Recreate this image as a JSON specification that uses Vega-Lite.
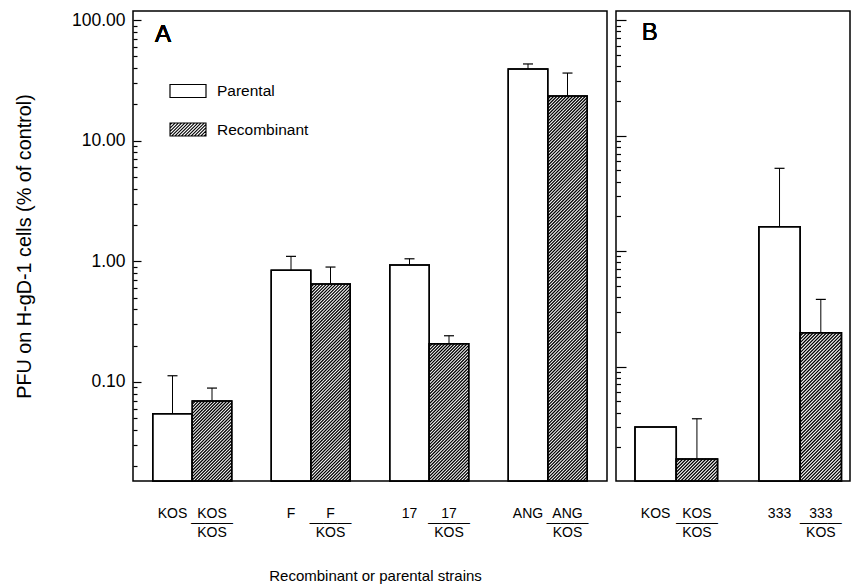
{
  "$schema": "https://vega.github.io/schema/vega-lite/v6.json",
  "padding": {"left": 13, "top": 10, "right": 0, "bottom": 0},
  "config": {
    "font": "Liberation Sans",
    "view": {"stroke": "black", "strokeWidth": 1.5},
    "axis": {"labelColor": "black", "titleColor": "black", "tickColor": "black", "domainColor": "black", "titleFontWeight": "normal", "labelFont": "Liberation Sans", "titleFont": "Liberation Sans", "grid": false},
    "legend": {"labelFont": "Liberation Sans", "labelColor": "black", "labelFontSize": 15.5, "labelOffset": 10, "padding": 0, "title": null},
    "text": {"font": "Liberation Sans", "color": "black", "fontWeight": "normal"}
  },
  "datasets": {
    "a": [
      {"strain": "KOS", "series": "Parental", "pfu": 0.0545, "err": 0.1126},
      {"strain": "KOS/KOS", "series": "Recombinant", "pfu": 0.0695, "err": 0.089},
      {"strain": "F", "series": "Parental", "pfu": 0.842, "err": 1.10},
      {"strain": "F/KOS", "series": "Recombinant", "pfu": 0.648, "err": 0.897},
      {"strain": "17", "series": "Parental", "pfu": 0.932, "err": 1.05},
      {"strain": "17/KOS", "series": "Recombinant", "pfu": 0.2074, "err": 0.2416},
      {"strain": "ANG", "series": "Parental", "pfu": 39.3, "err": 43.3},
      {"strain": "ANG/KOS", "series": "Recombinant", "pfu": 23.5, "err": 36.4}
    ],
    "b": [
      {"strain": "KOS", "series": "Parental", "pfu": 0.0299, "err": null},
      {"strain": "KOS/KOS", "series": "Recombinant", "pfu": 0.0158, "err": 0.0353},
      {"strain": "333", "series": "Parental", "pfu": 1.627, "err": 5.22},
      {"strain": "333/KOS", "series": "Recombinant", "pfu": 0.1963, "err": 0.382}
    ]
  },
  "spacing": 6,
  "resolve": {"scale": {"x": "independent", "y": "independent", "fill": "independent", "stroke": "independent"}, "legend": {"fill": "independent", "stroke": "independent"}},
  "hconcat": [
    {
      "width": 474,
      "height": 470,
      "data": {"name": "a"},
      "encoding": {
        "x": {
          "field": "strain", "type": "nominal",
          "scale": {"domain": ["KOS", "KOS/KOS", " ", "F", "F/KOS", "  ", "17", "17/KOS", "   ", "ANG", "ANG/KOS"], "paddingInner": 0, "paddingOuter": 0.5},
          "axis": {
            "title": "Recombinant or parental strains", "titleFontSize": 15, "titlePadding": 29, "titleX": 242,
            "ticks": false, "domain": false, "labelAngle": 0, "labelFontSize": 14, "labelPadding": 25,
            "labelLineHeight": 9.5, "labelBaseline": "top", "labelOverlap": false,
            "labelExpr": "indexof(datum.value, '/') > 0 ? [split(datum.value, '/')[0], '———', split(datum.value, '/')[1]] : datum.value"
          }
        },
        "y": {
          "field": "pfu", "type": "quantitative",
          "scale": {"type": "log", "domain": [0.0151, 119], "nice": false, "zero": false},
          "axis": {
            "title": "PFU on H-gD-1 cells (% of control)", "titleFontSize": 19.8, "titlePadding": 37,
            "values": [0.02, 0.03, 0.04, 0.05, 0.06, 0.07, 0.08, 0.09, 0.1, 0.2, 0.3, 0.4, 0.5, 0.6, 0.7, 0.8, 0.9, 1, 2, 3, 4, 5, 6, 7, 8, 9, 10, 20, 30, 40, 50, 60, 70, 80, 90, 100],
            "labelExpr": "indexof([0.1, 1, 10, 100], datum.value) >= 0 ? format(datum.value, '.2f') : ''",
            "tickSize": {"condition": {"test": "indexof([0.1, 1, 10, 100], datum.value) >= 0", "value": -8}, "value": -4},
            "tickWidth": 1.2, "domain": false, "labelFontSize": 17.5, "labelPadding": 16, "labelOverlap": false, "labelFlush": false
          }
        }
      },
      "layer": [
        {
          "mark": {"type": "rect", "stroke": "black", "strokeWidth": 1.5},
          "encoding": {
            "y2": {"datum": 0.0151},
            "fill": {
              "field": "series", "type": "nominal",
              "scale": {"domain": ["Parental", "Recombinant"], "range": ["white", "white"]},
              "legend": {
                "values": ["Parental"], "orient": "none", "legendX": 36, "legendY": 61,
                "symbolType": "M-1,-0.36L1,-0.36L1,0.36L-1,0.36Z", "symbolSize": 1296,
                "symbolStrokeColor": "black", "symbolStrokeWidth": 1.2, "symbolOpacity": 1
              }
            }
          }
        },
        {
          "transform": [{"filter": "datum.series === 'Recombinant'"}],
          "mark": {
            "type": "point", "filled": false, "opacity": 1, "strokeWidth": 1.25, "clip": true, "size": 1560.25,
            "shape": "M-1,0.16l0.16,-0.16M-1,0.32l0.32,-0.32M-1,0.48l0.48,-0.48M-1,0.64l0.64,-0.64M-1,0.8l0.8,-0.8M-1,0.96l0.96,-0.96M-1,1.12l1.12,-1.12M-1,1.28l1.28,-1.28M-1,1.44l1.44,-1.44M-1,1.6l1.6,-1.6M-1,1.76l1.76,-1.76M-1,1.92l1.92,-1.92M-1,2.08l2,-2m-2,2.16l2,-2m-2,2.16l2,-2m-2,2.16l2,-2m-2,2.16l2,-2m-2,2.16l2,-2m-2,2.16l2,-2m-2,2.16l2,-2m-2,2.16l2,-2m-2,2.16l2,-2m-2,2.16l2,-2m-2,2.16l2,-2m-2,2.16l2,-2m-2,2.16l2,-2m-2,2.16l2,-2m-2,2.16l2,-2m-2,2.16l2,-2m-2,2.16l2,-2m-2,2.16l2,-2m-2,2.16l2,-2m-2,2.16l2,-2m-2,2.16l2,-2m-2,2.16l2,-2m-2,2.16l2,-2m-2,2.16l2,-2m-2,2.16l2,-2m-2,2.16l2,-2m-2,2.16l2,-2m-2,2.16l2,-2m-2,2.16l2,-2m-2,2.16l2,-2m-2,2.16l2,-2m-2,2.16l2,-2m-2,2.16l2,-2m-2,2.16l2,-2m-2,2.16l2,-2m-2,2.16l2,-2m-2,2.16l2,-2m-2,2.16l2,-2m-2,2.16l2,-2m-2,2.16l2,-2m-2,2.16l2,-2m-2,2.16l2,-2m-2,2.16l2,-2m-2,2.16l2,-2m-2,2.16l2,-2m-2,2.16l2,-2m-2,2.16l2,-2m-2,2.16l2,-2m-2,2.16l2,-2m-2,2.16l2,-2m-2,2.16l2,-2m-2,2.16l2,-2m-2,2.16l2,-2m-2,2.16l2,-2m-2,2.16l2,-2m-2,2.16l2,-2m-2,2.16l2,-2m-2,2.16l2,-2m-2,2.16l2,-2m-2,2.16l2,-2m-2,2.16l2,-2m-2,2.16l2,-2m-2,2.16l2,-2m-2,2.16l2,-2m-2,2.16l2,-2m-2,2.16l2,-2m-2,2.16l2,-2m-2,2.16l2,-2m-2,2.16l2,-2m-2,2.16l2,-2m-2,2.16l2,-2m-2,2.16l2,-2m-2,2.16l2,-2m-2,2.16l2,-2m-2,2.16l2,-2m-2,2.16l2,-2m-2,2.16l2,-2m-2,2.16l2,-2m-2,2.16l2,-2m-2,2.16l2,-2m-2,2.16l2,-2m-2,2.16l2,-2m-2,2.16l2,-2m-2,2.16l2,-2m-2,2.16l2,-2m-2,2.16l2,-2m-2,2.16l2,-2m-2,2.16l2,-2m-2,2.16l2,-2m-2,2.16l2,-2m-2,2.16l2,-2m-2,2.16l2,-2m-2,2.16l2,-2m-2,2.16l2,-2m-2,2.16l2,-2m-2,2.16l2,-2m-2,2.16l2,-2m-2,2.16l2,-2m-2,2.16l2,-2m-2,2.16l2,-2m-2,2.16l2,-2m-2,2.16l2,-2m-2,2.16l2,-2m-2,2.16l2,-2m-2,2.16l2,-2m-2,2.16l2,-2m-2,2.16l2,-2m-2,2.16l2,-2m-2,2.16l2,-2m-2,2.16l2,-2m-2,2.16l2,-2m-2,2.16l2,-2m-2,2.16l2,-2m-2,2.16l2,-2m-2,2.16l2,-2m-2,2.16l2,-2m-2,2.16l2,-2m-2,2.16l2,-2m-2,2.16l2,-2m-2,2.16l2,-2m-2,2.16l2,-2m-2,2.16l2,-2m-2,2.16l2,-2m-2,2.16l2,-2"
          },
          "encoding": {
            "stroke": {
              "field": "series", "type": "nominal",
              "scale": {"domain": ["Recombinant"], "range": ["black"]},
              "legend": {
                "orient": "none", "legendX": 36, "legendY": 99.5,
                "symbolType": "M-1,-0.36L1,-0.36L1,0.36L-1,0.36ZM-1,-0.26l0.1,-0.1M-1,-0.08l0.28,-0.28M-1,0.1l0.46,-0.46M-1,0.28l0.64,-0.64M-0.9,0.36l0.72,-0.72M-0.72,0.36l0.72,-0.72M-0.54,0.36l0.72,-0.72M-0.36,0.36l0.72,-0.72M-0.18,0.36l0.72,-0.72M0,0.36l0.72,-0.72M0.18,0.36l0.72,-0.72M0.36,0.36l0.64,-0.64M0.54,0.36l0.46,-0.46M0.72,0.36l0.28,-0.28M0.9,0.36l0.1,-0.1",
                "symbolSize": 1296, "symbolStrokeWidth": 1.1, "symbolOpacity": 1, "symbolFillColor": "white"
              }
            }
          }
        },
        {
          "mark": {"type": "rect", "stroke": "black", "strokeWidth": 1.5, "fill": null, "fillOpacity": 0},
          "encoding": {"y2": {"datum": 0.0151}}
        },
        {
          "transform": [{"filter": "isValid(datum.err)"}],
          "mark": {"type": "rule", "color": "black", "strokeWidth": 1},
          "encoding": {"y2": {"field": "err"}}
        },
        {
          "transform": [{"filter": "isValid(datum.err)"}],
          "mark": {"type": "tick", "color": "black", "size": 10, "thickness": 1.2, "opacity": 1},
          "encoding": {"y": {"field": "err", "type": "quantitative"}}
        },
        {
          "mark": {"type": "text", "text": "A", "fontSize": 24, "fontWeight": "normal", "font": "Liberation Sans", "align": "left", "baseline": "alphabetic", "dx": -17.5, "dy": 22},
          "encoding": {"x": {"datum": "KOS"}, "y": {"datum": 100}}
        }
      ]
    },
    {
      "width": 234,
      "height": 470,
      "data": {"name": "b"},
      "encoding": {
        "x": {
          "field": "strain", "type": "nominal",
          "scale": {"domain": ["KOS", "KOS/KOS", " ", "333", "333/KOS"], "paddingInner": 0, "paddingOuter": 0.333, "align": 0.69},
          "axis": {
            "title": null,
            "ticks": false, "domain": false, "labelAngle": 0, "labelFontSize": 14, "labelPadding": 25,
            "labelLineHeight": 9.5, "labelBaseline": "top", "labelOverlap": false,
            "labelExpr": "indexof(datum.value, '/') > 0 ? [split(datum.value, '/')[0], '———', split(datum.value, '/')[1]] : datum.value"
          }
        },
        "y": {
          "field": "pfu", "type": "quantitative",
          "scale": {"type": "log", "domain": [0.0102, 120.4], "nice": false, "zero": false},
          "axis": {
            "title": null, "labels": false,
            "values": [0.02, 0.03, 0.04, 0.05, 0.06, 0.07, 0.08, 0.09, 0.1, 0.2, 0.3, 0.4, 0.5, 0.6, 0.7, 0.8, 0.9, 1, 2, 3, 4, 5, 6, 7, 8, 9, 10, 20, 30, 40, 50, 60, 70, 80, 90, 100],
            "tickSize": {"condition": {"test": "indexof([0.1, 1, 10, 100], datum.value) >= 0", "value": -10}, "value": -4.5},
            "tickWidth": 1.2, "domain": false
          }
        }
      },
      "layer": [
        {
          "mark": {"type": "rect", "stroke": "black", "strokeWidth": 1.5, "fill": "white"},
          "encoding": {"y2": {"datum": 0.0102}}
        },
        {
          "transform": [{"filter": "datum.series === 'Recombinant'"}],
          "mark": {
            "type": "point", "filled": false, "opacity": 1, "strokeWidth": 1.25, "clip": true, "size": 1705.7, "color": "black",
            "shape": "M-1,0.16l0.16,-0.16M-1,0.32l0.32,-0.32M-1,0.48l0.48,-0.48M-1,0.64l0.64,-0.64M-1,0.8l0.8,-0.8M-1,0.96l0.96,-0.96M-1,1.12l1.12,-1.12M-1,1.28l1.28,-1.28M-1,1.44l1.44,-1.44M-1,1.6l1.6,-1.6M-1,1.76l1.76,-1.76M-1,1.92l1.92,-1.92M-1,2.08l2,-2m-2,2.16l2,-2m-2,2.16l2,-2m-2,2.16l2,-2m-2,2.16l2,-2m-2,2.16l2,-2m-2,2.16l2,-2m-2,2.16l2,-2m-2,2.16l2,-2m-2,2.16l2,-2m-2,2.16l2,-2m-2,2.16l2,-2m-2,2.16l2,-2m-2,2.16l2,-2m-2,2.16l2,-2m-2,2.16l2,-2m-2,2.16l2,-2m-2,2.16l2,-2m-2,2.16l2,-2m-2,2.16l2,-2m-2,2.16l2,-2m-2,2.16l2,-2m-2,2.16l2,-2m-2,2.16l2,-2m-2,2.16l2,-2m-2,2.16l2,-2m-2,2.16l2,-2m-2,2.16l2,-2m-2,2.16l2,-2m-2,2.16l2,-2m-2,2.16l2,-2m-2,2.16l2,-2m-2,2.16l2,-2m-2,2.16l2,-2m-2,2.16l2,-2m-2,2.16l2,-2m-2,2.16l2,-2m-2,2.16l2,-2m-2,2.16l2,-2m-2,2.16l2,-2m-2,2.16l2,-2m-2,2.16l2,-2m-2,2.16l2,-2m-2,2.16l2,-2m-2,2.16l2,-2"
          },
          "encoding": {}
        },
        {
          "mark": {"type": "rect", "stroke": "black", "strokeWidth": 1.5, "fill": null, "fillOpacity": 0},
          "encoding": {"y2": {"datum": 0.0102}}
        },
        {
          "transform": [{"filter": "isValid(datum.err)"}],
          "mark": {"type": "rule", "color": "black", "strokeWidth": 1},
          "encoding": {"y2": {"field": "err"}}
        },
        {
          "transform": [{"filter": "isValid(datum.err)"}],
          "mark": {"type": "tick", "color": "black", "size": 10, "thickness": 1.2, "opacity": 1},
          "encoding": {"y": {"field": "err", "type": "quantitative"}}
        },
        {
          "mark": {"type": "text", "text": "B", "fontSize": 24, "fontWeight": "normal", "font": "Liberation Sans", "align": "left", "baseline": "alphabetic", "dx": -14, "dy": 19.7},
          "encoding": {"x": {"datum": "KOS"}, "y": {"datum": 100}}
        }
      ]
    }
  ]
}
